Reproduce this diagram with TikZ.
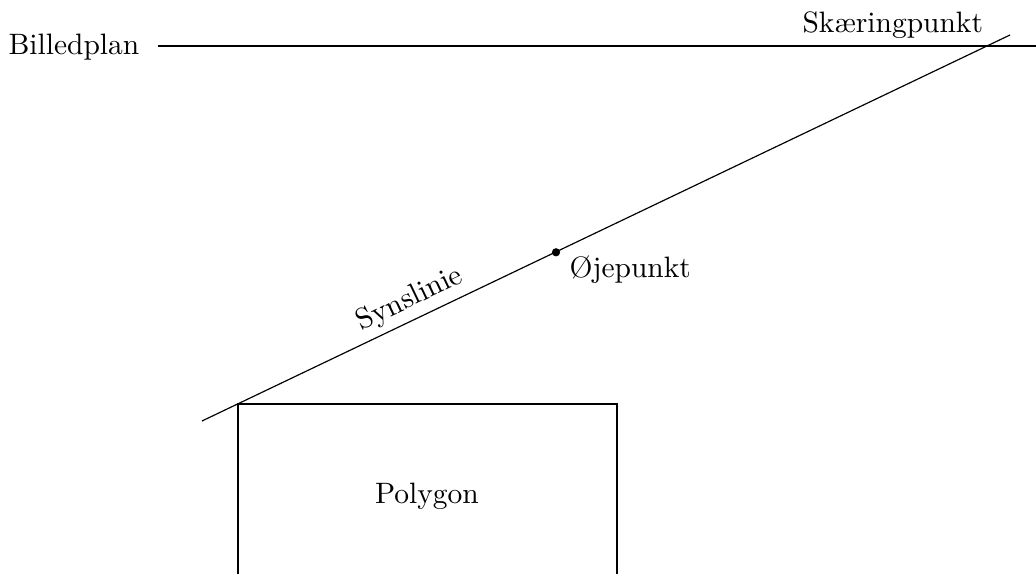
\documentclass[tikz,border=0pt]{standalone}
\begin{document}
\begin{tikzpicture}[x={(0.339pt,0)},y={(0,-0.339pt)},
  lbl/.style={inner sep=0pt, anchor=base west},
  seg/.style={line width=0.4pt}]
\useasboundingbox (0,0) rectangle (1036,574);
\clip (0,0) rectangle (1036,574);
% image plane
\node[lbl] (bp) at (8,55) {Billedplan};
\coordinate (bpS) at (158,46);
\coordinate (bpE) at (1040,46);
\draw[seg] (bpS) -- (bpE);
% sight line
\coordinate (sA) at (202,421);
\coordinate (sB) at (1010,35);
\draw[seg] (sA) -- node[pos=0.268, sloped, above, inner sep=2pt] (syn) {Synslinie} (sB);
\node[lbl] (sk) at (802,33) {Skæringpunkt};
% eye point
\coordinate (eye) at (556,252.3);
\fill (eye) circle (1.4pt);
\node[lbl] (ojp) at (569,278) {Øjepunkt};
% polygon
\coordinate (p1) at (238,404);
\coordinate (p2) at (617,404);
\coordinate (p3) at (617,600);
\coordinate (p4) at (238,600);
\draw[seg] (p4) -- (p1) -- (p2) -- (p3);
\node (poly) at (427,496) {Polygon};
\end{tikzpicture}
\end{document}
